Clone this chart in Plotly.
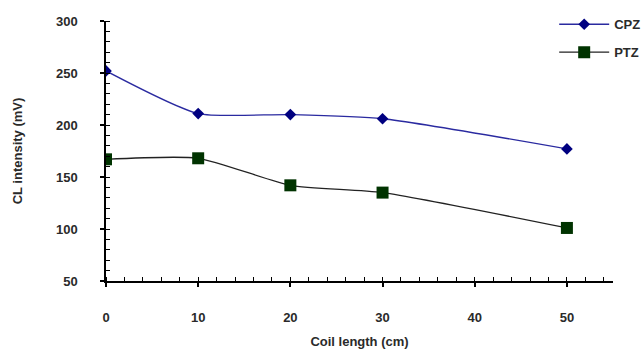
import plotly.graph_objects as go

coil_length = [0, 10, 20, 30, 50]
cpz = [252, 211, 210, 206, 177]
ptz = [167, 168, 142, 135, 101]

fig = go.Figure()
fig.add_trace(go.Scatter(
    x=coil_length, y=cpz, name="CPZ", mode="lines+markers", legendgroup="a",
    line=dict(color="#2a2aa0", width=1.3, shape="spline", smoothing=0.6),
    marker=dict(symbol="diamond", size=9, color="#000080"),
))
fig.add_trace(go.Scatter(
    x=coil_length, y=ptz, name="PTZ", mode="lines+markers", legendgroup="b",
    line=dict(color="#222222", width=1.3, shape="spline", smoothing=0.6),
    marker=dict(symbol="square", size=12, color="#003300"),
))

tf = dict(family="Liberation Sans, Arial, sans-serif", size=13, color="#2a2a2a", weight="bold")

fig.update_layout(
    width=641, height=351,
    margin=dict(l=106, r=28, t=21, b=70, autoexpand=False),
    paper_bgcolor="white", plot_bgcolor="white",
    font=tf,
    showlegend=True,
    legend=dict(x=0.884, y=1.045, xanchor="left", yanchor="top",
                bgcolor="rgba(0,0,0,0)", font=tf,
                traceorder="grouped", tracegroupgap=8, itemwidth=50),
    xaxis=dict(
        range=[0, 55], tickvals=[0, 10, 20, 30, 40, 50], automargin=False,
        showgrid=False, zeroline=False, showline=True, linecolor="black", linewidth=1.5,
        ticks="outside", ticklen=4, tickwidth=1.5, tickcolor="black",
        minor=dict(dtick=2, ticks="inside", ticklen=4, tickwidth=1, tickcolor="black"),
        ticklabelstandoff=20,
        tickfont=tf,
        title=dict(text="Coil length (cm)", standoff=13, font=tf),
    ),
    yaxis=dict(
        range=[50, 300], tickvals=[50, 100, 150, 200, 250, 300], automargin=False,
        showgrid=False, zeroline=False, showline=True, linecolor="black", linewidth=1.5,
        ticks="outside", ticklen=4, tickwidth=1.5, tickcolor="black",
        minor=dict(dtick=10, ticks="inside", ticklen=4, tickwidth=1, tickcolor="black"),
        ticklabelstandoff=20,
        tickfont=tf,
        title=dict(text="CL intensity (mV)", standoff=30, font=tf),
    ),
)

fig.write_html("out.html", config={"displayModeBar": False},
               post_script="document.body.style.margin='0';")
